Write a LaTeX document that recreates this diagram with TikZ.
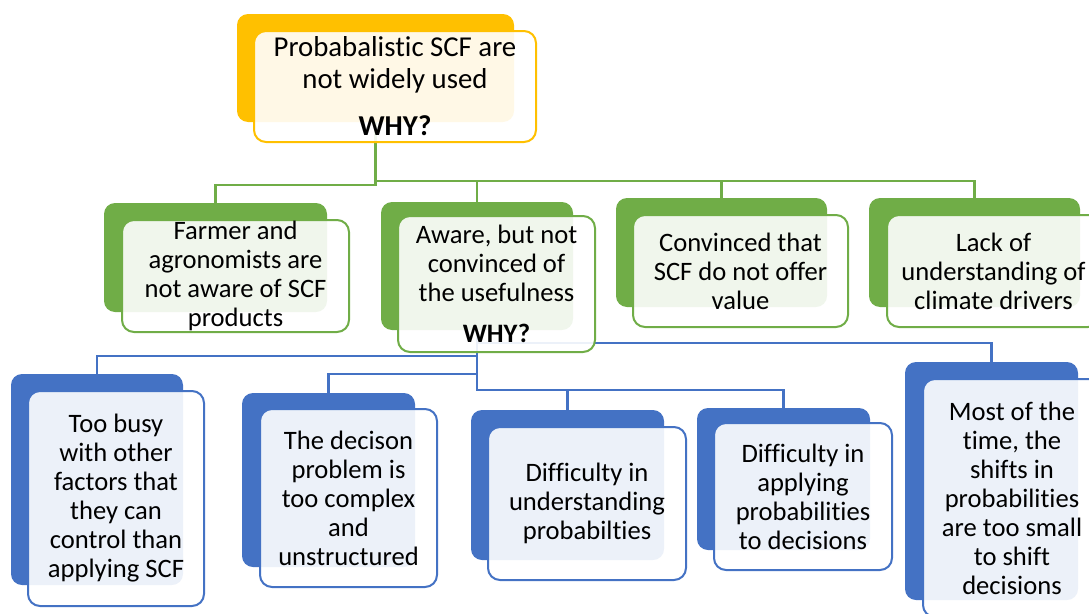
\documentclass[tikz,border=0pt]{standalone}
\usepackage{fontspec}
\setmainfont{Carlito}[Ligatures=CommonOff]
\usetikzlibrary{backgrounds}
\definecolor{scfyellow}{RGB}{255,192,0}
\definecolor{scfgreen}{RGB}{112,173,71}
\definecolor{scfblue}{RGB}{68,114,196}

\begin{document}
\begin{tikzpicture}[
  x=1pt, y=-1pt,
  backbox/.style={fill=#1, rounded corners=11pt, inner sep=0pt},
  frontbox/.style={draw=#1, line width=2pt, fill=white, fill opacity=0.9,
                   text opacity=1, rounded corners=12pt, inner sep=0pt,
                   align=center, font=\fontsize{26.6}{29}\selectfont},
  conn/.style={draw=#1, line width=2.2pt}
]
  \useasboundingbox (0,0) rectangle (1089,613);

  \node[backbox=scfyellow, minimum width=277pt, minimum height=108pt] (rootbk) at (375.5,68) {};
  \node[frontbox=scfyellow, minimum width=282pt, minimum height=111pt,
        font=\fontsize{28.8}{31.5}\selectfont] (root) at (395,86.5)
    {Probabalistic SCF are\\not widely used\\[16pt]\textbf{WHY?}};

  \node[backbox=scfgreen, minimum width=223pt, minimum height=109pt] (unawarebk) at (215.5,257.5) {};
  \node[frontbox=scfgreen, minimum width=227pt, minimum height=112pt] (unaware) at (235.5,276)
    {Farmer and\\agronomists are\\not aware of SCF\\products};
  \node[backbox=scfgreen, minimum width=192pt, minimum height=128pt] (awarebk) at (477,266) {};
  \node[frontbox=scfgreen, minimum width=197pt, minimum height=136pt] (aware) at (496.5,284)
    {Aware, but not\\convinced of\\the usefulness\\[12pt]\textbf{WHY?}};
  \node[backbox=scfgreen, minimum width=211pt, minimum height=109pt] (novaluebk) at (721.5,252.5) {};
  \node[frontbox=scfgreen, minimum width=215pt, minimum height=112pt] (novalue) at (740.5,271)
    {Convinced that\\SCF do not offer\\value};
  \node[backbox=scfgreen, minimum width=211pt, minimum height=109pt] (driversbk) at (974.5,252.5) {};
  \node[frontbox=scfgreen, minimum width=213pt, minimum height=112pt] (drivers) at (993.5,271)
    {Lack of\\understanding of\\climate drivers};

  \node[backbox=scfblue, minimum width=172pt, minimum height=211pt] (busybk) at (97,479.5) {};
  \node[frontbox=scfblue, minimum width=176pt, minimum height=215pt] (busy) at (116,498.5)
    {Too busy\\with other\\factors that\\they can\\control than\\applying SCF};
  \node[backbox=scfblue, minimum width=173pt, minimum height=174pt] (complexbk) at (328.5,480) {};
  \node[frontbox=scfblue, minimum width=177pt, minimum height=178pt] (complex) at (348.5,498)
    {The decison\\problem is\\too complex\\and\\unstructured};
  \node[backbox=scfblue, minimum width=193pt, minimum height=150pt] (understandbk) at (567.5,485) {};
  \node[frontbox=scfblue, minimum width=198pt, minimum height=153pt] (understand) at (587,503.5)
    {Difficulty in\\understanding\\probabilties};
  \node[backbox=scfblue, minimum width=173pt, minimum height=142pt] (applybk) at (783.5,479) {};
  \node[frontbox=scfblue, minimum width=178pt, minimum height=147pt] (apply) at (803,496.5)
    {Difficulty in\\applying\\probabilities\\to decisions};
  \node[backbox=scfblue, minimum width=173pt, minimum height=238pt] (shiftbk) at (991.5,481) {};
  \node[frontbox=scfblue, minimum width=178pt, minimum height=238pt] (shift) at (1012,498)
    {Most of the\\time, the\\shifts in\\probabilities\\are too small\\to shift\\decisions};

  \begin{scope}[on background layer]
    \draw[conn=scfgreen] (rootbk.south) -- ++(0,63) -| (unawarebk.north);
    \draw[conn=scfgreen] (rootbk.south) -- ++(0,59) -| (awarebk.north);
    \draw[conn=scfgreen] (rootbk.south) -- ++(0,59) -| (novaluebk.north);
    \draw[conn=scfgreen] (rootbk.south) -- ++(0,59) -| (driversbk.north);
    \draw[conn=scfblue] (awarebk.south) -- ++(0,26) -| (busybk.north);
    \draw[conn=scfblue] (awarebk.south) -- ++(0,44) -| (complexbk.north);
    \draw[conn=scfblue] (awarebk.south) -- ++(0,60) -| (understandbk.north);
    \draw[conn=scfblue] (awarebk.south) -- ++(0,60) -| (applybk.north);
    \draw[conn=scfblue] (awarebk.south) -- ++(0,13) -| (shiftbk.north);
  \end{scope}
\end{tikzpicture}
\end{document}
